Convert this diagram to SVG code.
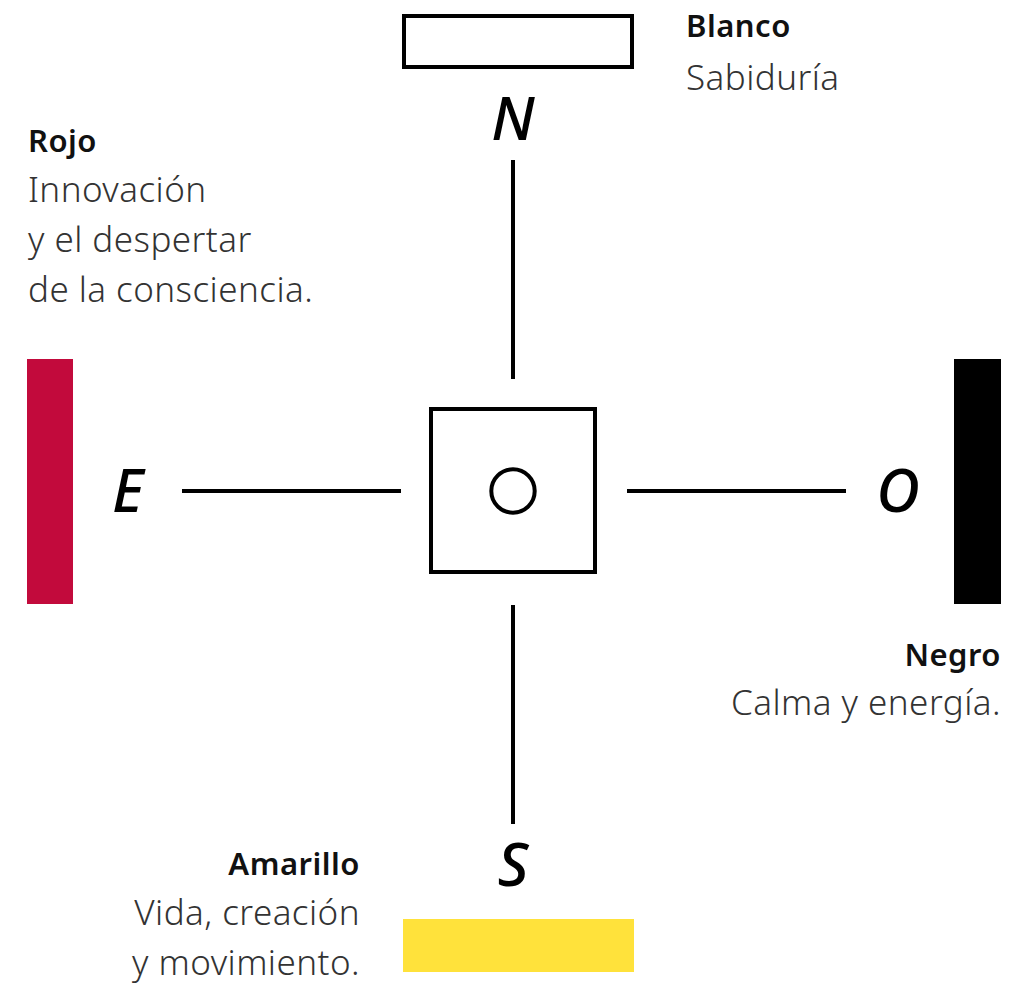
<svg xmlns="http://www.w3.org/2000/svg" width="1021" height="984" viewBox="0 0 1021 984">
<style>
.title{font-family:"Noto Sans","Liberation Sans",sans-serif;font-weight:600;font-size:31px;letter-spacing:0.5px;fill:#111}
.body{font-family:"Noto Sans","Liberation Sans",sans-serif;font-weight:300;font-size:35px;letter-spacing:0.45px;fill:#333}
.dir{font-family:"Noto Sans","Liberation Sans",sans-serif;font-style:italic;font-weight:500;font-size:60px;fill:#000}
.ln{stroke:#000;stroke-width:4;fill:none}
.box{stroke:#000;stroke-width:4;fill:#fff}
</style>
<rect width="1021" height="984" fill="#fff"/>
<g id="connectors">
<line class="ln" x1="513" y1="160" x2="513" y2="379"/>
<line class="ln" x1="513" y1="605" x2="513" y2="824"/>
<line class="ln" x1="182" y1="491" x2="401" y2="491"/>
<line class="ln" x1="627" y1="491" x2="846" y2="491"/>
</g>
<g id="center">
<rect class="box" x="431" y="409" width="164" height="163"/>
<circle class="ln" cx="513" cy="491" r="21.7"/>
</g>
<g id="north">
<rect class="box" x="404" y="16" width="228" height="51"/>
<text class="dir" x="513" y="140" text-anchor="middle">N</text>
<text class="title" x="686" y="37">Blanco</text>
<text class="body" x="686" y="90">Sabiduría</text>
</g>
<g id="east">
<rect x="27" y="359" width="46" height="245" fill="#C20A3C"/>
<text class="dir" x="112" y="512">E</text>
<text class="title" x="28" y="152">Rojo</text>
<text class="body" x="28" y="202">Innovación</text>
<text class="body" x="28" y="252">y el despertar</text>
<text class="body" x="28" y="302">de la consciencia.</text>
</g>
<g id="west">
<rect x="954" y="359" width="47" height="245" fill="#000"/>
<text class="dir" x="898" y="512" text-anchor="middle">O</text>
<text class="title" x="1001" y="666" text-anchor="end">Negro</text>
<text class="body" x="1001" y="715" text-anchor="end">Calma y energía.</text>
</g>
<g id="south">
<rect x="403" y="919" width="231" height="53" fill="#FFE23B"/>
<text class="dir" x="513" y="886" text-anchor="middle">S</text>
<text class="title" x="360" y="875" text-anchor="end">Amarillo</text>
<text class="body" x="360" y="925" text-anchor="end">Vida, creación</text>
<text class="body" x="360" y="975" text-anchor="end">y movimiento.</text>
</g>
</svg>
